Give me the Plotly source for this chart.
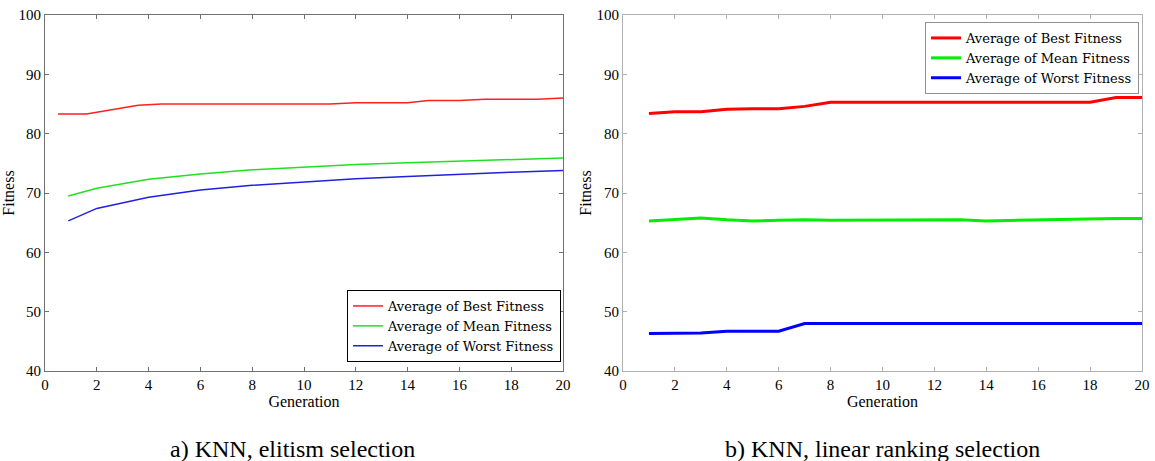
import plotly.graph_objects as go

# Panel a) elitism selection
a_best_x = [0.5, 1.6, 2.0, 3.6, 4.5, 6, 8, 10, 11, 12, 14, 14.8, 16, 17, 19, 20]
a_best_y = [83.3, 83.3, 83.6, 84.8, 85.0, 85.0, 85.0, 85.0, 85.0, 85.2, 85.2, 85.6, 85.6, 85.8, 85.8, 86.0]
a_mean_x = [0.9, 2, 4, 6, 8, 10, 12, 14, 16, 18, 20]
a_mean_y = [69.5, 70.8, 72.3, 73.2, 73.9, 74.4, 74.8, 75.1, 75.4, 75.7, 75.9]
a_worst_x = [0.9, 2, 4, 6, 8, 10, 12, 14, 16, 18, 20]
a_worst_y = [65.3, 67.4, 69.3, 70.5, 71.3, 71.9, 72.4, 72.8, 73.2, 73.5, 73.8]

# Panel b) linear ranking selection
b_gen = list(range(1, 21))
b_best = [83.4, 83.7, 83.7, 84.1, 84.2, 84.2, 84.6, 85.3, 85.3, 85.3, 85.3, 85.3, 85.3, 85.3, 85.3, 85.3, 85.3, 85.3, 86.1, 86.1]
b_mean = [65.3, 65.5, 65.8, 65.5, 65.3, 65.4, 65.5, 65.4, 65.4, 65.5, 65.4, 65.4, 65.5, 65.3, 65.4, 65.5, 65.5, 65.7, 65.7, 65.7]
b_worst = [46.3, 46.3, 46.4, 46.7, 46.7, 46.7, 48.0, 48.0, 48.0, 48.0, 48.0, 48.0, 48.0, 48.0, 48.0, 48.0, 48.0, 48.0, 48.0, 48.0]

names = ["Average of Best Fitness", "Average of Mean Fitness", "Average of Worst Fitness"]
colors_a = ["#ff2020", "#20e020", "#2020e0"]
colors_b = ["#ff0000", "#00ee00", "#0000ff"]
captions = ["a) KNN, elitism selection", "b) KNN, linear ranking selection"]
x_ticks = list(range(0, 21, 2))
y_ticks = list(range(40, 101, 10))

W, H = 1155, 461
PL, PR, PT, PB = 45, 1142, 15, 371  # plot area in pixels
PW = PR - PL
PH = PB - PT


def px_x(p):
    return (p - PL) / PW


def px_y(p):
    return (PB - p) / PH


fig = go.Figure()

for i, (xs, ys) in enumerate([(a_best_x, a_best_y), (a_mean_x, a_mean_y), (a_worst_x, a_worst_y)]):
    fig.add_trace(go.Scatter(x=xs, y=ys, mode="lines", name=names[i],
                             line=dict(color=colors_a[i], width=1.5),
                             xaxis="x", yaxis="y", legend="legend"))
for i, ys in enumerate([b_best, b_mean, b_worst]):
    fig.add_trace(go.Scatter(x=b_gen, y=ys, mode="lines", name=names[i],
                             line=dict(color=colors_b[i], width=3),
                             xaxis="x2", yaxis="y2", legend="legend2"))

serif = "Liberation Serif"
legend_font = dict(family="DejaVu Serif", size=13, color="black")


def axis(dom, anchor, vals, rng, title, lc, standoff):
    return dict(domain=dom, anchor=anchor, tickvals=vals, range=rng,
                showgrid=False, zeroline=False, showline=True, linecolor=lc,
                linewidth=1, mirror="ticks", ticks="inside", ticklen=4, tickcolor=lc,
                automargin=False, ticklabeloverflow="allow",
                tickfont=dict(family=serif, size=15, color="black"),
                title=dict(text=title, font=dict(family=serif, size=16, color="black"),
                           standoff=standoff))


fig.update_layout(
    width=W, height=H,
    margin=dict(l=PL, r=W - PR, t=PT, b=H - PB, autoexpand=False),
    paper_bgcolor="white", plot_bgcolor="white",
    font=dict(family=serif, color="black"),
    xaxis=axis([0, px_x(563)], "y", x_ticks, [0, 20], "Generation", "#707070", 0),
    yaxis=axis([0, 1], "x", y_ticks, [40, 100], "Fitness", "#707070", 0),
    xaxis2=axis([px_x(623), 1], "y2", x_ticks, [0, 20], "Generation", "#b0b0b0", 0),
    yaxis2=axis([0, 1], "x2", y_ticks, [40, 100], "Fitness", "#b0b0b0", 0),
    legend=dict(x=px_x(561), y=px_y(362), xanchor="right", yanchor="bottom",
                bgcolor="white", bordercolor="black", borderwidth=1,
                font=legend_font, tracegroupgap=0, itemwidth=30),
    legend2=dict(x=px_x(1139), y=px_y(22), xanchor="right", yanchor="top",
                 bgcolor="white", bordercolor="#909090", borderwidth=1,
                 font=legend_font, tracegroupgap=0, itemwidth=30),
    annotations=[
        dict(text=captions[0], x=px_x(292), y=px_y(449), xref="paper", yref="paper",
             xanchor="center", yanchor="middle",
             showarrow=False, font=dict(family=serif, size=24)),
        dict(text=captions[1], x=px_x(882), y=px_y(449), xref="paper", yref="paper",
             xanchor="center", yanchor="middle",
             showarrow=False, font=dict(family=serif, size=24)),
    ],
)

fig.write_html("out.html", config={"displayModeBar": False},
               post_script="document.body.style.margin='0px';document.body.style.overflow='hidden';")
